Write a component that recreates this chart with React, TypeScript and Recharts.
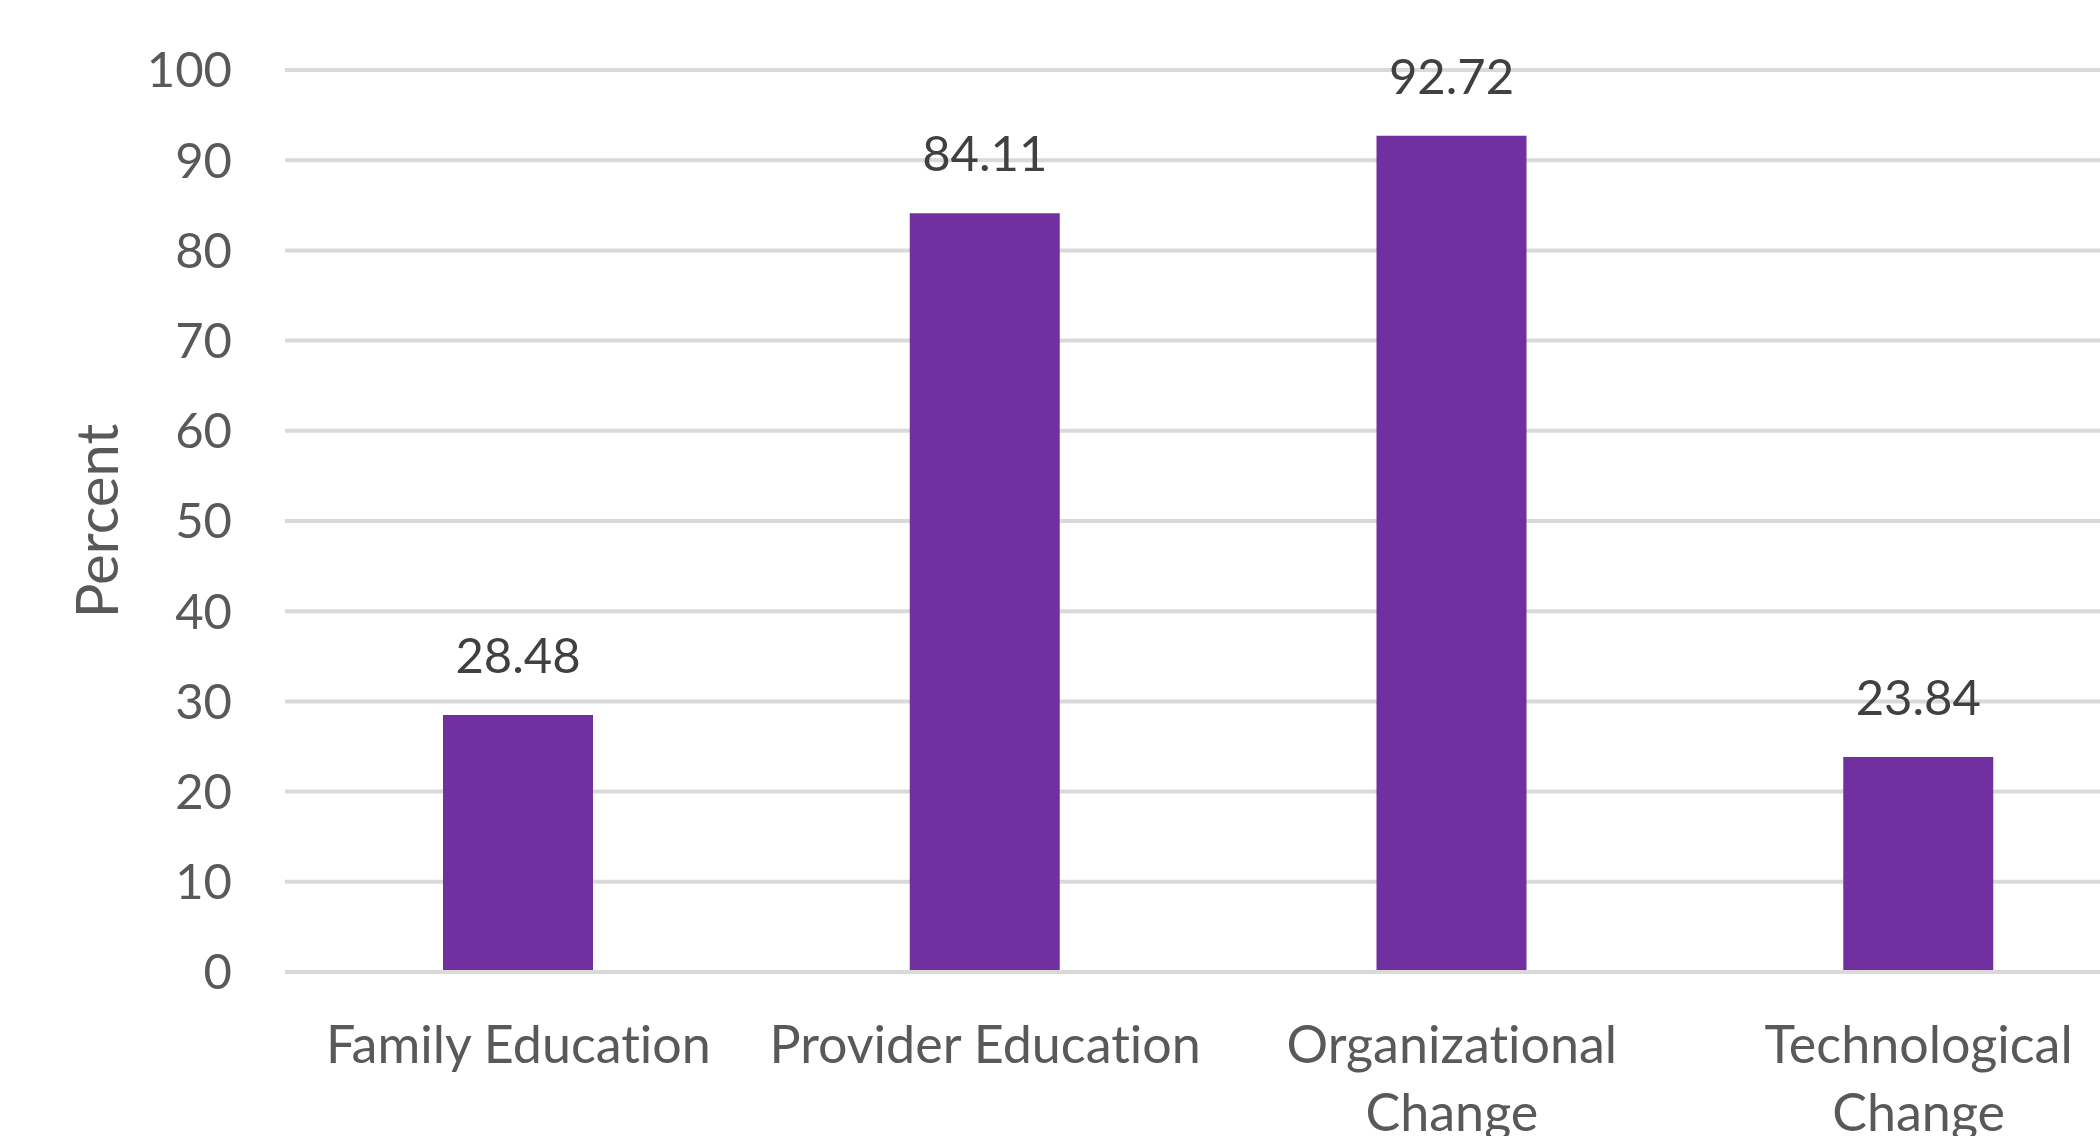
import React from "react";
import { BarChart, Bar, XAxis, YAxis, CartesianGrid, LabelList } from "recharts";

const categories = ["Family Education", "Provider Education", "Organizational Change", "Technological Change"];
const percentValues = [28.48, 84.11, 92.72, 23.84];
const yTicks = [0, 10, 20, 30, 40, 50, 60, 70, 80, 90, 100];

const data = categories.map((c, i) => ({ category: c, value: percentValues[i] }));

const FONT = "Lato, 'Open Sans', sans-serif";

function wrapWords(s: string, maxChars: number): string[] {
  const words = s.split(" ");
  const lines: string[] = [];
  let cur = "";
  for (const w of words) {
    const next = cur ? cur + " " + w : w;
    if (next.length > maxChars && cur) {
      lines.push(cur);
      cur = w;
    } else {
      cur = next;
    }
  }
  if (cur) lines.push(cur);
  return lines;
}

const CategoryTick = (props: any) => {
  const { x, y, payload } = props;
  const lines = wrapWords(String(payload.value), 18);
  return (
    <text
      x={x}
      y={y}
      textAnchor="middle"
      fill="#595959"
      fontSize={52}
      fontFamily={FONT}
      style={{ fontVariantLigatures: "none" }}
    >
      {lines.map((ln, i) => (
        <tspan key={i} x={x} dy={i === 0 ? "0.71em" : 68}>
          {ln}
        </tspan>
      ))}
    </text>
  );
};

export default function App() {
  return (
    <div
      style={{
        position: "absolute",
        left: 0,
        top: 0,
        width: 2100,
        height: 1136,
        overflow: "hidden",
        background: "#fff",
        fontVariantLigatures: "none",
      }}
    >
      <BarChart
        width={2152}
        height={1136}
        data={data}
        margin={{ top: 70, right: 0, bottom: 0, left: 0 }}
      >
        <CartesianGrid vertical={false} stroke="#d9d9d9" strokeWidth={4} />
        <XAxis
          dataKey="category"
          axisLine={{ stroke: "#d9d9d9", strokeWidth: 4 }}
          tickLine={false}
          height={164}
          interval={0}
          tick={<CategoryTick />}
          tickSize={0}
          tickMargin={54}
        />
        <YAxis
          domain={[0, 100]}
          ticks={yTicks}
          axisLine={false}
          tickLine={false}
          width={285}
          tickSize={0}
          tickMargin={53}
          tick={{ fill: "#595959", fontSize: 49, fontFamily: FONT }}
          label={{
            value: "Percent",
            angle: -90,
            position: "insideLeft",
            dx: 92,
            fill: "#595959",
            fontSize: 58,
            fontFamily: FONT,
            style: { textAnchor: "middle" },
          }}
        />
        <Bar dataKey="value" fill="#7030A0" barSize={150} isAnimationActive={false}>
          <LabelList
            dataKey="value"
            position="top"
            offset={42}
            fill="#404040"
            fontSize={49}
            fontFamily={FONT}
            formatter={(v: any) => Number(v).toFixed(2)}
          />
        </Bar>
      </BarChart>
    </div>
  );
}
